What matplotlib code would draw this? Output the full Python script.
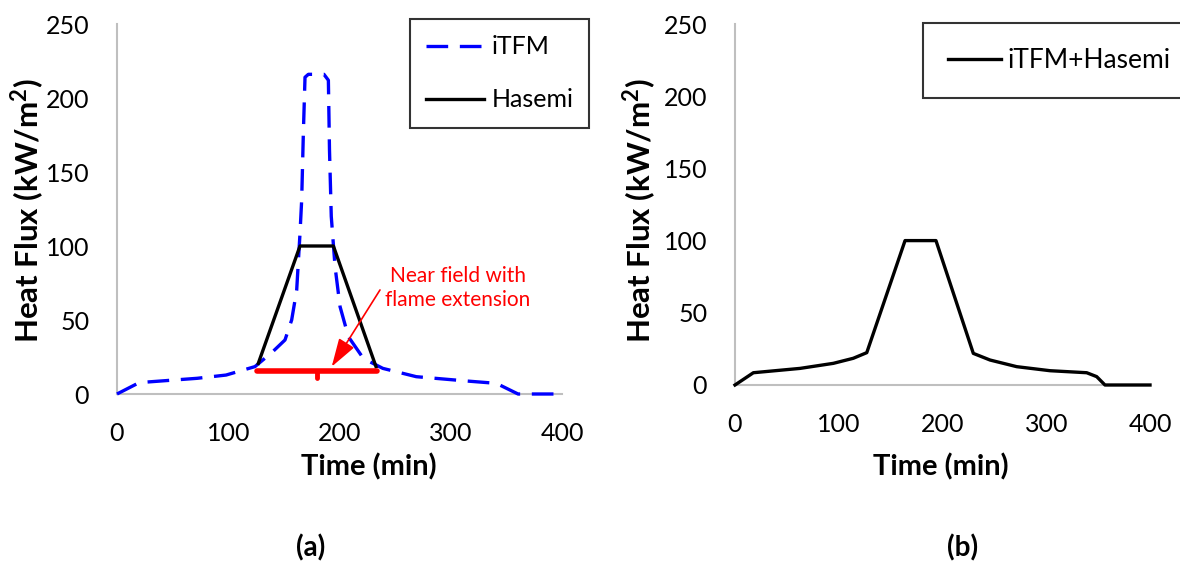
import numpy as np
import matplotlib
matplotlib.use("Agg")
from matplotlib import pyplot as plt

plt.rcParams['font.family'] = ['Lato', 'DejaVu Sans']

# (a) iTFM heat flux
itfm_t = [0, 20, 72, 98, 124, 140, 151, 157, 161.5, 164.5, 166, 167.5, 169,
          172, 186, 190, 191, 192.6, 196, 200.5, 208, 221.5, 239, 269, 314,
          341, 360.5, 400]
itfm_q = [0, 7.7, 10.6, 12.8, 18.5, 28.6, 36.5, 50, 70, 108.6, 131, 176, 214,
          216, 216, 212, 165, 120, 86, 59, 38.7, 24, 17.3, 11.7, 8.8,
          7.2, 0, 0]

# (a) Hasemi trapezoid
hasemi_t = [127, 164.5, 194.5, 232.8]
hasemi_q = [20.7, 100, 100, 18.5]

# near field bar and its small centre tick
bar_t = [125.8, 233.4]
bar_q = [15.5, 15.5]
bar_mid_t = [179.5, 179.5]
bar_mid_q = [15.5, 11]

# (b) combined iTFM + Hasemi
comb_t = [0, 17.7, 62.7, 94.8, 114, 127, 163.9, 193.7, 229.7, 245.8, 271.5,
          303.6, 339, 348.6, 356.6, 400]
comb_q = [0, 8.5, 11.5, 15, 18.5, 22.4, 100, 100, 21.9, 17.3, 12.7,
          9.9, 8.5, 5.8, 0, 0]

xticks = [0, 100, 200, 300, 400]
yticks = [0, 50, 100, 150, 200, 250]

fig = plt.figure(figsize=(11.8, 5.81), dpi=100)
ax1 = fig.add_axes([117/1180, 1-394/581, 445/1180, 370/581])
ax2 = fig.add_axes([735/1180, 1-385/581, 415/1180, 361/581])

for ax in (ax1, ax2):
    ax.set_xlim(0, 400)
    ax.set_ylim(0, 250)
    ax.set_xticks(xticks)
    ax.set_yticks(yticks)
    ax.tick_params(length=0, labelsize=18, pad=20)
    for s in ('top', 'right'):
        ax.spines[s].set_visible(False)
    for s in ('left', 'bottom'):
        ax.spines[s].set_color('#bfbfbf')
        ax.spines[s].set_linewidth(1.5)
    ax.set_xlabel('Time (min)', fontsize=21, fontweight='bold', va='center')
    ax.set_ylabel('Heat Flux (kW/m$^\\mathregular{2}$)', fontsize=22.5,
                  fontweight='bold', va='center')

ax1.plot(itfm_t, itfm_q, color='#0000ff', lw=2.4, dashes=(6.5, 3.5),
         label='iTFM', clip_on=False, zorder=3)
ax1.plot(hasemi_t, hasemi_q, color='black', lw=2.4, label='Hasemi',
         zorder=4)
ax1.plot(bar_t, bar_q, color='#ff0000', lw=4, solid_capstyle='round',
         zorder=5)
ax1.plot(bar_mid_t, bar_mid_q, color='#ff0000', lw=3.5,
         solid_capstyle='round', zorder=5)
ax1.annotate('', xy=(193, 18.5), xytext=(236.4, 70.3),
             arrowprops=dict(arrowstyle='-|>,head_length=0.7,head_width=0.22',
                             color='#ff0000', lw=1.2, mutation_scale=25,
                             shrinkA=0, shrinkB=0),
             zorder=6)
ax1.text(306.5, 71.6, 'Near field with\nflame extension', color='#ff0000',
         fontsize=15, ha='center', va='center', linespacing=1.3)

ax2.plot(comb_t, comb_q, color='black', lw=2.4, label='iTFM+Hasemi',
         clip_on=False, zorder=3)

leg1 = ax1.legend(loc='upper left', bbox_to_anchor=(410/1180, 1-19/581),
                  bbox_transform=fig.transFigure, fontsize=18, frameon=True,
                  fancybox=False, edgecolor='black', handlelength=2.3,
                  handletextpad=0.3, labelspacing=1.2, borderpad=0.65,
                  borderaxespad=0)
leg1.get_frame().set_linewidth(1.5)
leg2 = ax2.legend(loc='upper left', bbox_to_anchor=(923/1180, 1-23/581),
                  bbox_transform=fig.transFigure, fontsize=19, frameon=True,
                  fancybox=False, edgecolor='black', handlelength=2.0,
                  handletextpad=0.25, borderpad=0.95, borderaxespad=0)
leg2.get_frame().set_linewidth(1.5)

ax1.xaxis.set_label_coords((369-117)/445, (394-467)/370)
ax1.yaxis.set_label_coords((28-117)/445, (394-210)/370)
ax2.xaxis.set_label_coords((941-735)/415, (385-467)/361)
ax2.yaxis.set_label_coords((640-735)/415, (385-210)/361)

fig.text(311/1180, 1-548/581, '(a)', fontsize=20, fontweight='bold',
         ha='center', va='center')
fig.text(963/1180, 1-548/581, '(b)', fontsize=20, fontweight='bold',
         ha='center', va='center')

fig.savefig('out.png', dpi=100)
